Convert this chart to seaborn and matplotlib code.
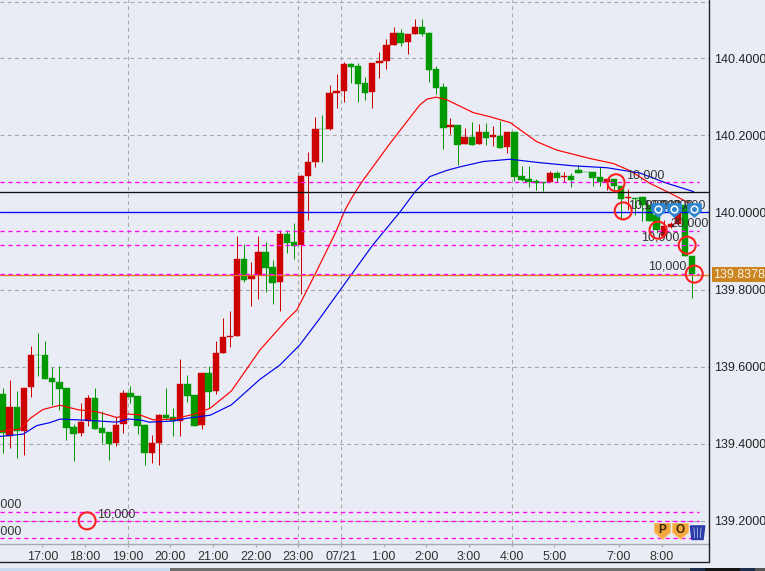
import numpy as np
import matplotlib
matplotlib.use("Agg")
import matplotlib.pyplot as plt
from matplotlib.lines import Line2D
from matplotlib.patches import Rectangle
from matplotlib.path import Path
import seaborn as sns

opens = [139.529,139.419,139.495,139.433,139.546,139.630,139.630,139.571,139.560,139.545,
 139.443,139.429,139.458,139.519,139.441,139.431,139.403,139.450,139.532,139.524,
 139.449,139.377,139.402,139.475,139.469,139.460,139.555,139.527,139.449,139.583,
 139.536,139.636,139.678,139.680,139.880,139.828,139.839,139.898,139.859,139.820,
 139.944,139.924,139.916,140.095,140.131,140.217,140.217,140.310,140.315,140.385,
 140.380,140.336,140.313,140.388,140.393,140.434,140.465,140.442,140.463,140.481,
 140.465,140.372,140.325,140.222,140.227,140.178,140.196,140.178,140.209,140.196,
 140.199,140.170,140.209,140.095,140.087,140.082,140.079,140.078,140.103,140.092,
 140.095,140.111,140.105,140.105,140.092,140.079,140.087,140.069,140.037,140.037,
 140.039,140.019,139.994,139.939,139.961,139.970,140.019,139.887]
highs = [139.544,139.565,139.538,139.544,139.654,139.686,139.667,139.600,139.602,139.545,
 139.451,139.505,139.527,139.545,139.486,139.431,139.469,139.540,139.550,139.524,
 139.451,139.423,139.477,139.545,139.492,139.620,139.578,139.527,139.584,139.602,
 139.667,139.726,139.745,139.939,139.919,139.872,139.939,139.924,139.877,139.955,
 139.955,139.973,140.097,140.157,140.248,140.253,140.331,140.359,140.390,140.388,
 140.388,140.351,140.388,140.416,140.450,140.481,140.476,140.463,140.502,140.502,
 140.468,140.380,140.336,140.245,140.227,140.219,140.235,140.230,140.232,140.224,
 140.237,140.209,140.209,140.121,140.121,140.087,140.079,140.108,140.108,140.105,
 140.103,140.124,140.106,140.105,140.118,140.087,140.087,140.069,140.061,140.037,
 140.039,140.019,140.000,139.981,139.976,140.030,140.030,139.887]
lows = [139.375,139.390,139.362,139.371,139.522,139.576,139.567,139.501,139.488,139.410,
 139.356,139.420,139.446,139.439,139.403,139.358,139.393,139.427,139.505,139.426,
 139.345,139.349,139.345,139.462,139.420,139.419,139.509,139.445,139.439,139.492,
 139.529,139.635,139.652,139.680,139.820,139.758,139.776,139.794,139.763,139.745,
 139.895,139.880,139.789,139.981,140.118,140.131,140.214,140.271,140.287,140.336,
 140.287,140.292,140.271,140.349,140.372,140.434,140.432,140.411,140.463,140.458,
 140.338,140.307,140.165,140.204,140.123,140.178,140.175,140.178,140.175,140.173,
 140.167,140.154,140.082,140.082,140.066,140.059,140.056,140.078,140.079,140.079,
 140.066,140.103,140.104,140.069,140.069,140.059,140.059,139.984,140.006,139.994,
 139.978,139.977,139.946,139.937,139.959,139.968,139.886,139.778]
closes = [139.427,139.495,139.432,139.544,139.630,139.629,139.568,139.559,139.543,139.442,
 139.426,139.457,139.519,139.439,139.429,139.400,139.449,139.532,139.521,139.447,
 139.375,139.402,139.475,139.468,139.460,139.555,139.524,139.446,139.584,139.535,
 139.636,139.677,139.680,139.880,139.825,139.838,139.898,139.856,139.817,139.944,
 139.922,139.914,140.095,140.131,140.217,140.216,140.310,140.315,140.385,140.378,
 140.333,140.310,140.388,140.393,140.434,140.465,140.440,140.463,140.481,140.463,
 140.370,140.323,140.219,140.227,140.175,140.196,140.175,140.209,140.193,140.201,
 140.167,140.209,140.092,140.084,140.079,140.077,140.076,140.103,140.090,140.095,
 140.085,140.103,140.104,140.090,140.078,140.087,140.069,140.035,140.040,140.034,
 140.019,139.977,139.955,139.965,139.970,139.998,139.886,139.841]

red_ma_x = [-0.35,2.46,3.9,5.7,8.1,10.7,13.3,16.1,17.7,19.3,21.2,24,26.8,29.2,32.2,36.2,40.0,41.4,44,
 46.8,48.2,49.1,50.5,54.5,58.7,59.7,61,62.5,66.2,68.6,71.4,75.1,77.9,82.6,85.9,88.3,91,93.9,96.2,97]
red_ma = [139.432,139.438,139.466,139.489,139.500,139.488,139.483,139.468,139.477,139.475,139.462,139.464,
 139.476,139.492,139.537,139.643,139.722,139.747,139.841,139.946,140.007,140.037,140.078,140.179,140.279,
 140.294,140.299,140.292,140.259,140.248,140.233,140.184,140.162,140.140,140.127,140.108,140.076,140.050,140.028,140.019]
blue_ma_x = [-0.35,2.9,4.8,6.7,8.1,11.8,16.1,17.7,19.3,20.7,24,25.9,29.2,32.2,36.2,39,41.8,44.5,47.7,52.1,
 55.9,58,60.1,62.5,64.3,67.6,71.4,75.6,80.2,85,89.7,93.4,97.2]
blue_ma = [139.419,139.425,139.447,139.455,139.464,139.461,139.456,139.464,139.462,139.456,139.459,139.466,
 139.474,139.501,139.567,139.604,139.656,139.722,139.804,139.916,140.001,140.053,140.093,140.109,140.118,
 140.132,140.138,140.129,140.121,140.116,140.102,140.076,140.054]

x_tick_pos = [5.6,11.6,17.6,23.6,29.6,35.6,41.6,47.6,53.6,59.6,65.6,71.6,77.6,86.7,92.7]
x_tick_labels = ["17:00","18:00","19:00","20:00","21:00","22:00","23:00","07/21",
                 "1:00","2:00","3:00","4:00","5:00","7:00","8:00"]
y_ticks = [139.2,139.4,139.6,139.8,140.0,140.2,140.4]
major_v_grid = [17.6,41.6,47.6,71.6]
order_levels = [140.079,139.952,139.916,139.840,139.222,139.200,139.155]
black_level = 140.053
blue_level = 140.001
last_price = 139.8378

circle_x = [11.9,86.3,87.3,92.2,96.3,97.3]
circle_y = [139.200,140.077,140.004,139.954,139.915,139.840]
order_labels = [
    (13.3,139.217,"10,000"),(-0.7,139.242,"10,000"),(-0.7,139.172,"10,000"),
    (87.7,140.097,"10,000"),(88.0,140.019,"10,000"),(90.1,140.019,"10,000"),
    (91.8,140.019,"20,000"),(93.5,140.019,"10,000"),
    (93.9,139.970,"20,000"),(89.8,139.936,"10,000"),(90.8,139.859,"10,000"),
]
pin_x = [92.2,94.4,97.2]
pin_y = [140.006,140.006,140.006]

sns.set_theme(style="white")
plt.rcParams["font.family"] = ["Liberation Sans", "DejaVu Sans"]
BG = "#E9ECF4"
W, H = 765, 571
fig = plt.figure(figsize=(W/100, H/100), dpi=100, facecolor=BG)
ax = fig.add_axes([0, 1-544/H, 708.5/W, 544/H], facecolor=BG)
idx = np.arange(len(opens))
o, h, l, c = map(np.array, (opens, highs, lows, closes))
colors = np.where(c >= o, "#CC0000", "#009900")
ax.set_xlim(-0.352, 99.3)
ax.set_ylim(139.140, 140.551)

GRID = "#A8A8A8"
for yv in y_ticks + [140.546]:
    ax.axhline(yv, color=GRID, lw=0.8, ls=(0, (3.5, 3)), zorder=1)
for xv in major_v_grid:
    ax.axvline(xv, color=GRID, lw=0.8, ls=(0, (3.5, 3)), zorder=1)

ax.vlines(idx, l, h, colors=colors, lw=0.72, zorder=2, antialiased=True)
ax.bar(idx, np.abs(c-o), bottom=np.minimum(o, c), width=0.9, color=colors,
       edgecolor=colors, linewidth=0.3, zorder=3, antialiased=True)

sns.lineplot(x=red_ma_x, y=red_ma, color="#FF0000", lw=0.85, ax=ax, estimator=None, zorder=4)
sns.lineplot(x=blue_ma_x, y=blue_ma, color="#0000EE", lw=0.85, ax=ax, estimator=None, zorder=4)

ax.axhline(black_level, color="#111111", lw=0.95, zorder=5)
ax.axhline(blue_level, color="#0000FF", lw=0.95, zorder=5)
ax.axhline(last_price, color="#E07A10", lw=0.95, zorder=5)
ax.hlines(order_levels, -0.35, 97.9, color="#FF00FF", lw=0.95, ls=(0, (3.2, 2.8)), zorder=6)

sns.scatterplot(x=circle_x, y=circle_y, s=150, facecolor="none", edgecolor="#FF2020",
                linewidth=1.5, ax=ax, zorder=9)

for x0, y0, s in order_labels:
    ha = "right" if x0 < 0 else "left"
    xp = 2.6 if x0 < 0 else x0
    ax.text(xp, y0, s, fontsize=9, color="#333333", ha=ha, va="center", zorder=8, clip_on=False)

pin = [(-1, 1), (1, 1), (1, -0.1), (0, -1), (-1, -0.1), (-1, 1)]
ax.plot(pin_x, pin_y, ls="", marker=pin, ms=9.5, mfc="#2E86D0", mec="#2E86D0", zorder=10)
ax.plot(pin_x, [v + 0.004 for v in pin_y], ls="", marker="o", ms=4.8, mfc="#2E86D0", mec="white", mew=1.1, zorder=11)

icon_y = 139.174
ax.plot([92.8, 95.3], [icon_y, icon_y], ls="", marker=pin, ms=11.5, mfc="#F6A840", mec="#F9C070", mew=0.7, zorder=10)
ax.text(92.8, icon_y+0.003, "P", fontsize=8.5, fontweight="bold", color="#3a2400", ha="center", va="center", zorder=11)
ax.text(95.3, icon_y+0.003, "O", fontsize=8.5, fontweight="bold", color="#3a2400", ha="center", va="center", zorder=11)
can = [(-0.9, 0.7), (0.9, 0.7), (0.7, -1), (-0.7, -1), (-0.9, 0.7)]
ax.plot([97.75], [icon_y], ls="", marker=can, ms=11.5, mfc="#2A3CA8", mec="#2A3CA8", zorder=10)
ribs = Path([(-0.45, 0.5), (-0.35, -0.8), (0, 0.5), (0, -0.8), (0.45, 0.5), (0.35, -0.8), (-1, 1), (1, -1)],
            [1, 2, 1, 2, 1, 2, 1, 1])
ax.plot([97.75], [icon_y], ls="", marker=ribs, ms=11.5, mfc="none", mec="#C8D4F0", mew=0.5, zorder=11)

ax.yaxis.tick_right()
ax.set_yticks(y_ticks)
ax.set_yticklabels([f"{v:.4f}" for v in y_ticks], fontsize=9, color="#222222")
ax.set_xticks(x_tick_pos)
ax.set_xticklabels(x_tick_labels, fontsize=9, color="#333333")
ax.tick_params(axis="y", length=0, pad=3.9)
ax.tick_params(axis="x", length=2.2, width=0.8, color=GRID, pad=2.5, bottom=True)
for side in ("top", "left", "right"):
    ax.spines[side].set_visible(False)
ax.spines["bottom"].set_color(GRID)
ax.spines["bottom"].set_linewidth(1.0)
ax.grid(False)
ax.set_xlabel("")
ax.set_ylabel("")

ax.text(713.5/708.5, last_price, f"{last_price:.4f}", transform=ax.get_yaxis_transform(),
        fontsize=9, color="#F8F4E8", ha="left", va="center", zorder=12, clip_on=False,
        bbox=dict(boxstyle="square,pad=0.12", fc="#CC8420", ec="#CC8420", lw=0))

def fx(px): return px / W
def fy(py): return 1 - py / H
fig.add_artist(Line2D([fx(0), fx(708.7)], [fy(561.5), fy(561.5)], color="#222222", lw=1.0))
fig.add_artist(Line2D([fx(708.7), fx(708.7)], [fy(0), fy(561.5)], color="#222222", lw=1.0))
for x0, x1, col in [(0, 170, "#C8DCF0"), (170, 690, "#6E6E6E"), (690, 705, "#1C2C4C"),
                    (705, 740, "#141414"), (740, 755, "#1C2C4C"), (755, 765, "#555555")]:
    fig.add_artist(Rectangle((fx(x0), 0), fx(x1-x0), 3/H, transform=fig.transFigure, fc=col, ec="none"))

fig.savefig("out.png", dpi=100, facecolor=BG)
